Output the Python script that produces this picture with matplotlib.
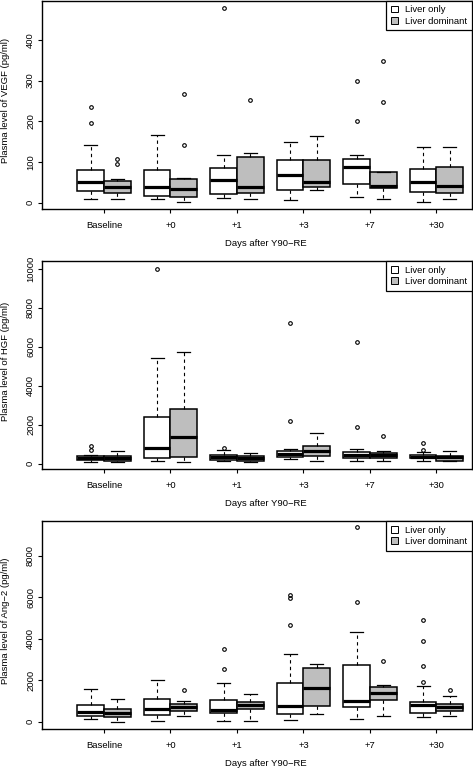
import matplotlib
matplotlib.use("Agg")
import matplotlib.pyplot as plt
from matplotlib.patches import Patch

plt.rcParams["font.family"] = ["Liberation Sans", "DejaVu Sans"]
plt.rcParams["font.size"] = 6.8

days = ["Baseline", "+0", "+1", "+3", "+7", "+30"]
groups = ["Liver only", "Liver dominant"]

# VEGF (pg/ml)
vegf_only_lo = [9, 9, 11, 7, 13, 3]
vegf_only_q1 = [29, 16, 21, 31, 46, 26]
vegf_only_med = [51, 38, 56, 67, 88, 51]
vegf_only_q3 = [80, 81, 86, 105, 107, 83]
vegf_only_hi = [143, 167, 118, 150, 117, 138]
vegf_only_out = [[235, 195], [], [478], [], [300, 202], []]

vegf_dom_lo = [8, 3, 9, 31, 8, 8]
vegf_dom_q1 = [25, 15, 25, 38, 35, 25]
vegf_dom_med = [38, 33, 39, 51, 40, 40]
vegf_dom_q3 = [53, 59, 113, 105, 76, 89]
vegf_dom_hi = [58, 61, 123, 165, 76, 138]
vegf_dom_out = [[107, 96], [268, 141], [252], [], [349, 247], []]

# HGF (pg/ml)
hgf_only_lo = [102, 118, 135, 220, 118, 135]
hgf_only_q1 = [169, 271, 204, 322, 271, 271]
hgf_only_med = [271, 782, 322, 511, 424, 358]
hgf_only_q3 = [373, 2403, 440, 664, 593, 440]
hgf_only_hi = [440, 5400, 695, 766, 766, 593]
hgf_only_out = [[900, 720], [10000], [782], [7224, 2198], [6253, 1860], [1053, 695]]

hgf_dom_lo = [66, 102, 66, 153, 153, 153]
hgf_dom_q1 = [118, 358, 153, 409, 288, 153]
hgf_dom_med = [271, 1361, 288, 629, 424, 322]
hgf_dom_q3 = [373, 2812, 409, 920, 527, 409]
hgf_dom_hi = [644, 5741, 542, 1549, 644, 664]
hgf_dom_out = [[], [], [], [], [1411], []]

# Ang-2 (pg/ml)
ang_only_lo = [125, 30, 48, 77, 125, 207]
ang_only_q1 = [255, 337, 400, 386, 723, 414]
ang_only_med = [448, 626, 578, 771, 978, 800]
ang_only_q3 = [819, 1108, 1060, 1846, 2713, 964]
ang_only_hi = [1557, 2024, 1860, 3258, 4318, 1735]
ang_only_out = [[], [], [3484, 2520], [6120, 5957, 4641], [9398, 5798], [4916, 3904, 2665, 1894]]

ang_dom_lo = [0, 289, 48, 386, 255, 289]
ang_dom_q1 = [241, 530, 593, 771, 1060, 530]
ang_dom_med = [400, 689, 785, 1605, 1398, 689]
ang_dom_q3 = [607, 848, 964, 2569, 1653, 848]
ang_dom_hi = [1108, 1012, 1330, 2776, 1749, 1219]
ang_dom_out = [[], [1508], [], [], [2920], [1508]]


def make_stats(lo, q1, med, q3, hi, out):
    stats = []
    for i in range(len(lo)):
        stats.append(dict(whislo=lo[i], q1=q1[i], med=med[i], q3=q3[i],
                          whishi=hi[i], fliers=out[i]))
    return stats


panels = [
    (make_stats(vegf_only_lo, vegf_only_q1, vegf_only_med, vegf_only_q3, vegf_only_hi, vegf_only_out),
     make_stats(vegf_dom_lo, vegf_dom_q1, vegf_dom_med, vegf_dom_q3, vegf_dom_hi, vegf_dom_out),
     "Plasma level of VEGF (pg/ml)", [0, 100, 200, 300, 400], (-15.4, 496.8)),
    (make_stats(hgf_only_lo, hgf_only_q1, hgf_only_med, hgf_only_q3, hgf_only_hi, hgf_only_out),
     make_stats(hgf_dom_lo, hgf_dom_q1, hgf_dom_med, hgf_dom_q3, hgf_dom_hi, hgf_dom_out),
     "Plasma level of HGF (pg/ml)", [0, 2000, 4000, 6000, 8000, 10000], (-276, 10394)),
    (make_stats(ang_only_lo, ang_only_q1, ang_only_med, ang_only_q3, ang_only_hi, ang_only_out),
     make_stats(ang_dom_lo, ang_dom_q1, ang_dom_med, ang_dom_q3, ang_dom_hi, ang_dom_out),
     "Plasma level of Ang\u22122 (pg/ml)", [0, 2000, 4000, 6000, 8000], (-357, 9687)),
]

W, H = 473, 771
fig = plt.figure(figsize=(W / 100, H / 100), dpi=100)

# frame positions in pixels (top, bottom)
frames = [(0.5, 209), (261, 469), (521, 729)]
left, right = 42, 472
centers = list(range(1, 7))

for (only, dom, ylab, yt, ylim), (top, bot) in zip(panels, frames):
    ax = fig.add_axes([left / W, (H - bot) / H, (right - left) / W, (bot - top) / H])
    for stats, pos, fc in [(only, [c - 0.2 for c in centers], "white"),
                           (dom, [c + 0.2 for c in centers], "#bebebe")]:
        ax.bxp(stats, positions=pos, widths=0.4, patch_artist=True,
               capwidths=0.2, manage_ticks=False,
               boxprops=dict(facecolor=fc, edgecolor="black", linewidth=1.1),
               medianprops=dict(color="black", linewidth=2.3, solid_capstyle="butt"),
               whiskerprops=dict(color="black", linewidth=0.8, linestyle=(0, (3, 3))),
               capprops=dict(color="black", linewidth=0.9),
               flierprops=dict(marker="o", markersize=2.6, markerfacecolor="none",
                               markeredgecolor="black", markeredgewidth=0.8))
    ax.set_xlim(0.068, 6.534)
    ax.set_ylim(*ylim)
    ax.set_xticks(centers)
    ax.set_xticklabels(days)
    ax.set_yticks(yt)
    ax.set_yticklabels([str(v) for v in yt], rotation=90, va="center")
    ax.tick_params(length=3, width=0.8, pad=2)
    ax.tick_params(axis="x", pad=6)
    for s in ax.spines.values():
        s.set_linewidth(1.0)
    handles = [Patch(facecolor="white", edgecolor="black", linewidth=0.7, label=groups[0]),
               Patch(facecolor="#bebebe", edgecolor="black", linewidth=0.7, label=groups[1])]
    leg = ax.legend(handles=handles, loc="upper right", borderaxespad=0, fancybox=False,
                    edgecolor="black", framealpha=1, handlelength=0.7, handleheight=0.7,
                    handletextpad=0.8, borderpad=0.5, labelspacing=0.25)
    leg.get_frame().set_linewidth(0.9)
    fig.text(6 / W, (H - (top + bot) / 2 + 4) / H, ylab, rotation=90, ha="center", va="center")
    fig.text(266 / W, (H - (bot + 34)) / H, "Days after Y90\u2212RE", ha="center", va="center")

fig.savefig("out.png", dpi=100)
